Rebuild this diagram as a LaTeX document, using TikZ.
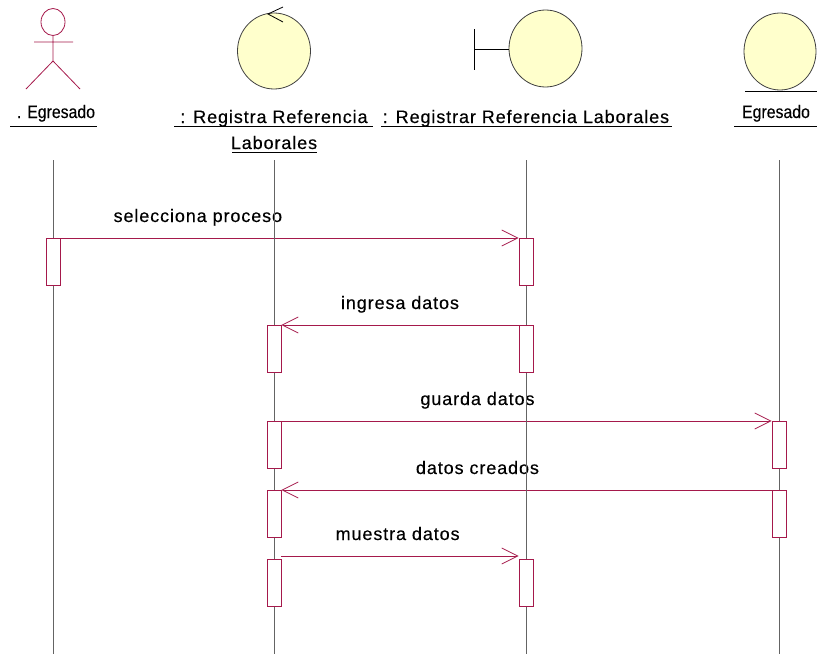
\documentclass[tikz,border=0pt]{standalone}
\usepackage{fontspec}
\setmainfont{Liberation Sans}[LetterSpace=5, FakeBold=0.3]
\newfontfamily\narrowfont{Liberation Sans}[FakeBold=0.2]
\usetikzlibrary{arrows.meta,backgrounds}
\definecolor{rose}{RGB}{165,25,75}
\definecolor{cream}{RGB}{255,255,204}
\definecolor{lifegray}{RGB}{100,100,100}
\newcommand{\narrow}[1]{\scalebox{.88}[1]{\narrowfont #1}}
\tikzset{
  life/.style={draw=lifegray, line width=.9pt},
  act/.style={draw=rose, fill=white, line width=.8pt, minimum width=14pt, minimum height=47pt, inner sep=0pt, anchor=north},
  msg/.style={draw=rose, line width=.8pt, -{Straight Barb[length=16pt,width=16pt]}},
  msglbl/.style={anchor=base, yshift=16pt, inner sep=0pt, text=black},
  obj/.style={draw=black!75, fill=cream, line width=.8pt},
  ttl/.style={anchor=base, inner sep=0pt},
  uline/.style={draw=black, line width=.9pt},
}
\begin{document}
\begin{tikzpicture}[x=1pt, y=-1pt, font=\fontsize{18}{21}\selectfont]
\useasboundingbox (0,0) rectangle (817,654);
% actor
\draw[rose, line width=.8pt] (53,22) ellipse[x radius=12, y radius=13.5];
\draw[rose, line width=.8pt] (53,35.5) -- (53,61) (34,42) -- (73,42) (26,89) -- (53,61) -- (80,89);
% control
\draw[obj] (274,51) ellipse[x radius=36.5, y radius=38];
\draw[line width=.8pt] (283,7) -- (268,14) -- (283,22);
% boundary
\draw[obj] (545.5,48.5) ellipse[x radius=36.5, y radius=38.5];
\draw[line width=.8pt] (474,29) -- (474,70) (474,49) -- (509,49);
% entity
\draw[obj] (780,51.5) ellipse[x radius=36, y radius=38.5];
\draw[line width=.8pt] (745,91) -- (817,91);

% titles
\node[ttl] (tEg) at (56,118) {\narrow{. Egresado}};
\node[ttl] (tCtl) at (274,123) {: Registra Referencia};
\node[ttl] (tCtl2) at (274,149) {Laborales};
\node[ttl] (tBnd) at (526,123) {: Registrar Referencia Laborales};
\node[ttl] (tEnt) at (776,118) {\narrow{Egresado}};
\draw[uline] (10,126) -- (97,126);
\draw[uline] (174,126) -- (373,126);
\draw[uline] (232,152) -- (317,152);
\draw[uline] (381,126) -- (672,126);
\draw[uline] (734,126) -- (817,126);

% activations
\node[act] (eg1) at (53,238) {};
\node[act] (bnd1) at (526,238) {};
\node[act] (ctl2) at (274,325) {};
\node[act] (bnd2) at (526,325) {};
\node[act] (ctl3) at (274,421) {};
\node[act] (ent3) at (779,421) {};
\node[act] (ctl4) at (274,490) {};
\node[act] (ent4) at (779,490) {};
\node[act] (ctl5) at (274,559) {};
\node[act] (bnd5) at (526,559) {};

\begin{scope}[on background layer]
% messages
\draw[msg] (eg1.north east) -- node[msglbl, pos=.3] {selecciona proceso} (bnd1.north west);
\draw[msg] (bnd2.north west) -- node[msglbl, pos=.5] {ingresa datos} (ctl2.north east);
\draw[msg] (ctl3.north east) -- node[msglbl, pos=.4] {guarda datos} (ent3.north west);
\draw[msg] (ent4.north west) -- node[msglbl, pos=.6] {datos creados} (ctl4.north east);
\draw[msg] ([yshift=3pt]ctl5.north east) -- node[msglbl, pos=.49] {muestra datos} ([yshift=3pt]bnd5.north west);
% lifelines
\foreach \x in {53,274,526,779}
  \draw[life] (\x,160) -- (\x,654);
\end{scope}
\end{tikzpicture}
\end{document}
